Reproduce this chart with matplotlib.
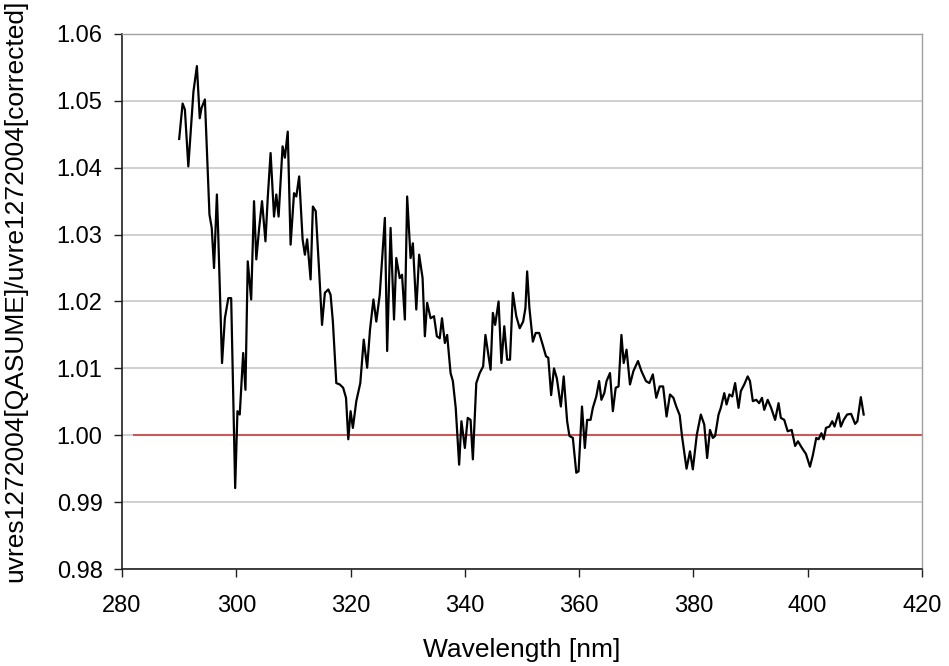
import matplotlib
matplotlib.use("Agg")
import matplotlib.pyplot as plt

wavelength = [290.0, 290.6, 291.0, 291.6, 292.5, 293.1, 293.6, 293.9, 294.5, 294.8,
              295.3, 295.7, 296.1, 296.6, 296.8, 297.5, 298.0, 298.6, 299.1, 299.5,
              299.8, 300.2, 300.6, 301.2, 301.6, 302.0, 302.6, 303.1, 303.5, 304.0,
              304.5, 305.1, 305.5, 306.0, 306.6, 307.0, 307.4, 308.1, 308.5, 309.0,
              309.5, 310.1, 310.5, 311.0, 311.6, 312.0, 312.4, 313.0, 313.4, 313.9,
              314.5, 315.0, 315.5, 316.1, 316.5, 316.9, 317.5, 318.1, 318.7, 319.2,
              319.6, 320.0, 320.4, 321.0, 321.7, 322.3, 322.9, 323.4, 324.0, 324.5,
              325.1, 326.0, 326.4, 327.0, 327.6, 328.0, 328.6, 329.0, 329.5, 329.9,
              330.5, 330.9, 331.5, 332.0, 332.6, 333.0, 333.4, 334.0, 334.6, 335.1,
              335.6, 336.0, 336.5, 336.9, 337.5, 337.9, 338.4, 339.0, 339.4, 340.0,
              340.5, 341.0, 341.4, 342.0, 342.6, 343.2, 343.6, 344.1, 344.5, 344.9,
              345.3, 345.9, 346.4, 346.9, 347.4, 347.9, 348.4, 349.0, 349.6, 350.2,
              350.6, 350.9, 351.3, 351.9, 352.4, 353.0, 353.6, 354.2, 354.6, 355.1,
              355.6, 356.1, 356.8, 357.3, 357.9, 358.3, 358.9, 359.5, 359.9, 360.5,
              361.0, 361.4, 362.0, 362.4, 363.0, 363.5, 363.9, 364.4, 364.8, 365.4,
              365.9, 366.4, 366.9, 367.4, 367.8, 368.3, 368.9, 369.5, 370.3, 370.9,
              371.7, 372.3, 372.9, 373.5, 374.1, 374.7, 375.3, 375.9, 376.5, 377.0,
              377.6, 378.0, 378.8, 379.4, 379.9, 380.6, 381.3, 381.9, 382.4, 382.9,
              383.4, 383.8, 384.4, 384.8, 385.4, 385.8, 386.3, 386.8, 387.3, 387.9,
              388.3, 388.9, 389.5, 389.9, 390.4, 391.0, 391.5, 392.0, 392.4, 393.0,
              393.6, 394.3, 394.9, 395.3, 395.9, 396.5, 397.2, 397.8, 398.3, 399.0,
              399.7, 400.4, 400.9, 401.5, 401.9, 402.4, 402.8, 403.2, 403.8, 404.3,
              404.7, 405.4, 405.8, 406.3, 406.9, 407.6, 408.3, 408.7, 409.3, 409.8]

ratio = [1.0443, 1.0496, 1.0487, 1.0402, 1.0514, 1.0552, 1.0474, 1.0489, 1.0502, 1.0439,
         1.0330, 1.0310, 1.0250, 1.0360, 1.0310, 1.0108, 1.0175, 1.0205, 1.0205, 1.0041,
         0.9921, 1.0036, 1.0031, 1.0123, 1.0068, 1.0260, 1.0203, 1.0350, 1.0263, 1.0310,
         1.0350, 1.0290, 1.0355, 1.0422, 1.0327, 1.0360, 1.0327, 1.0432, 1.0415, 1.0454,
         1.0285, 1.0362, 1.0357, 1.0387, 1.0293, 1.0270, 1.0293, 1.0233, 1.0342, 1.0335,
         1.0245, 1.0165, 1.0213, 1.0218, 1.0210, 1.0170, 1.0078, 1.0076, 1.0071, 1.0056,
         0.9994, 1.0036, 1.0011, 1.0051, 1.0078, 1.0143, 1.0101, 1.0158, 1.0203, 1.0170,
         1.0210, 1.0325, 1.0126, 1.0310, 1.0173, 1.0265, 1.0235, 1.0240, 1.0173, 1.0357,
         1.0265, 1.0287, 1.0188, 1.0270, 1.0235, 1.0148, 1.0198, 1.0175, 1.0178, 1.0148,
         1.0145, 1.0175, 1.0138, 1.0150, 1.0093, 1.0081, 1.0041, 0.9956, 1.0021, 0.9981,
         1.0026, 1.0023, 0.9964, 1.0078, 1.0093, 1.0103, 1.0150, 1.0121, 1.0098, 1.0183,
         1.0165, 1.0200, 1.0108, 1.0163, 1.0113, 1.0113, 1.0213, 1.0178, 1.0160, 1.0170,
         1.0190, 1.0245, 1.0190, 1.0140, 1.0153, 1.0153, 1.0136, 1.0118, 1.0116, 1.0060,
         1.0100, 1.0085, 1.0043, 1.0088, 1.0021, 0.9999, 0.9996, 0.9944, 0.9946, 1.0043,
         0.9981, 1.0023, 1.0023, 1.0041, 1.0058, 1.0081, 1.0053, 1.0063, 1.0081, 1.0093,
         1.0036, 1.0071, 1.0073, 1.0150, 1.0108, 1.0128, 1.0076, 1.0096, 1.0111, 1.0096,
         1.0081, 1.0078, 1.0091, 1.0056, 1.0073, 1.0073, 1.0028, 1.0061, 1.0056, 1.0043,
         1.0030, 0.9999, 0.9950, 0.9976, 0.9949, 1.0001, 1.0031, 1.0016, 0.9966, 1.0008,
         0.9996, 0.9999, 1.0031, 1.0041, 1.0063, 1.0046, 1.0061, 1.0058, 1.0078, 1.0041,
         1.0066, 1.0076, 1.0088, 1.0081, 1.0051, 1.0053, 1.0048, 1.0056, 1.0038, 1.0053,
         1.0041, 1.0023, 1.0048, 1.0026, 1.0023, 1.0006, 1.0008, 0.9984, 0.9991, 0.9981,
         0.9972, 0.9953, 0.9970, 0.9996, 0.9994, 1.0003, 0.9994, 1.0011, 1.0013, 1.0021,
         1.0013, 1.0033, 1.0013, 1.0023, 1.0031, 1.0032, 1.0017, 1.0021, 1.0057, 1.0031]

reference_level = 1.0
reference_span = [282, 420]
x_ticks = [280, 300, 320, 340, 360, 380, 400, 420]
y_ticks = [0.98, 0.99, 1.00, 1.01, 1.02, 1.03, 1.04, 1.05, 1.06]
x_label = "Wavelength [nm]"
y_label = "uvres1272004[QASUME]/uvre1272004[corrected]"

plt.rcParams['font.family'] = ['Liberation Sans', 'DejaVu Sans']

fig = plt.figure(figsize=(9.49, 6.66), dpi=100)
ax = fig.add_axes([0.1286, 0.1456, 0.8429, 0.8034])

ax.set_xlim(280, 420)
ax.set_ylim(0.98, 1.06)
ax.set_xticks(x_ticks)
ax.set_yticks(y_ticks)
ax.set_xticklabels([str(t) for t in x_ticks])
ax.set_yticklabels([f"{t:.2f}" for t in y_ticks])

ax.yaxis.grid(True, color='#c8c8c8', linewidth=1.2)
ax.set_axisbelow(True)

ax.hlines(reference_level, reference_span[0], reference_span[1],
          colors='#c85a5a', linewidth=1.5, zorder=2)
ax.plot(wavelength, ratio, color='black', linewidth=1.6, zorder=3)

for s in ['top', 'right']:
    ax.spines[s].set_color('#a0a0a0')
    ax.spines[s].set_linewidth(1.0)
for s in ['left', 'bottom']:
    ax.spines[s].set_color('#202020')
    ax.spines[s].set_linewidth(1.2)

ax.tick_params(axis='y', direction='out', length=6, width=1.0,
               labelsize=17, color='#202020', pad=8)
ax.tick_params(axis='x', direction='out', length=6, width=1.0,
               labelsize=17, color='#202020', pad=13)

ax.set_xlabel(x_label, fontsize=19)
ax.set_ylabel(y_label, fontsize=19)
ax.xaxis.set_label_coords(0.5, -0.151)
ax.yaxis.set_label_coords(-0.134, 0.52)
ax.xaxis.label.set_va('center')
ax.yaxis.label.set_va('center')

fig.savefig("out.png", dpi=100)
